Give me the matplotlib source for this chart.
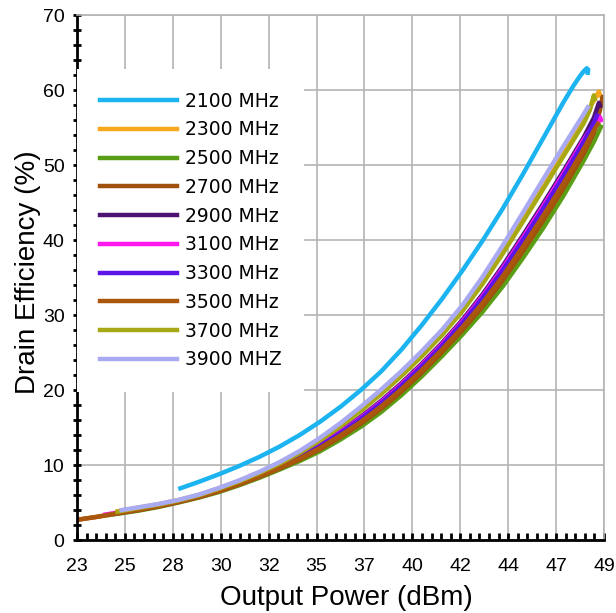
import numpy as np
import matplotlib
matplotlib.use("Agg")
import matplotlib.pyplot as plt
from matplotlib.ticker import MultipleLocator, FixedLocator

# tick labels as printed on the original axis (ticks are evenly spaced 23..49)
x_tick_labels = ["23", "25", "28", "30", "32", "35", "37", "40", "42", "44", "47", "49"]

labels = ["2100 MHz", "2300 MHz", "2500 MHz", "2700 MHz", "2900 MHz",
          "3100 MHz", "3300 MHz", "3500 MHz", "3700 MHz", "3900 MHZ"]
colors = ["#1cb4f0", "#f8a81e", "#5a9e16", "#a0520c", "#4c1470",
          "#ff18f0", "#5c14e8", "#aa560c", "#a8a814", "#aaaaf2"]

# values (Pout dBm, drain efficiency %)
x_2100 = [28.1, 29, 30, 31, 32, 33, 34, 35, 36, 37, 38, 39, 40, 41, 42, 43, 44, 45, 46,
          47, 47.5, 47.8, 48.0, 48.15, 48.22, 48.2]
y_2100 = [6.9, 7.75, 8.77, 9.87, 11.09, 12.47, 14.03, 15.79, 17.77, 19.99, 22.47, 25.37,
          28.62, 32.12, 35.87, 39.87, 44.17, 48.77, 53.57, 58.37, 60.6, 61.8, 62.5, 62.9,
          62.7, 62.3]

x_2300 = [25, 26, 27, 28, 29, 30, 31, 32, 33, 34, 35, 36, 37, 38, 39, 40, 41, 42, 43, 44,
          45, 46, 47, 48, 48.5, 48.7, 48.75, 48.8]
y_2300 = [3.82, 4.31, 4.76, 5.32, 6.01, 6.9, 7.89, 9.02, 10.3, 11.77, 13.47, 15.38, 17.49,
          19.75, 22.18, 24.82, 27.65, 30.86, 34.59, 38.71, 43.05, 47.45, 51.84, 56.18,
          58.6, 59.6, 59.8, 59.3]

x_2500 = [24.6, 25, 26, 27, 28, 29, 30, 31, 32, 33, 34, 35, 36, 37, 38, 39, 40, 41, 42,
          43, 44, 45, 46, 47, 48, 48.5, 48.85]
y_2500 = [3.35, 3.5, 3.9, 4.4, 5.0, 5.65, 6.4, 7.3, 8.3, 9.4, 10.55, 11.85, 13.4, 15.1,
          17.05, 19.3, 21.8, 24.5, 27.35, 30.4, 33.8, 37.6, 41.6, 45.9, 50.6, 53.1, 55.1]

x_2700 = [23, 24, 25, 26, 27, 28, 29, 30, 31, 32, 33, 34, 35, 36, 37, 38, 39, 40, 41, 42,
          43, 44, 45, 46, 47, 48, 48.5, 48.8, 48.93, 48.97]
y_2700 = [2.7, 3.1, 3.55, 3.97, 4.46, 5.05, 5.71, 6.48, 7.4, 8.42, 9.55, 10.75, 12.12,
          13.73, 15.5, 17.5, 19.78, 22.3, 25.03, 27.94, 31.1, 34.62, 38.51, 42.58, 46.89,
          51.53, 54.3, 57.3, 59.1, 58.6]

x_2900 = [25, 26, 27, 28, 29, 30, 31, 32, 33, 34, 35, 36, 37, 38, 39, 40, 41, 42, 43, 44,
          45, 46, 47, 48, 48.5, 48.75, 48.8]
y_2900 = [3.68, 4.13, 4.6, 5.18, 5.85, 6.68, 7.63, 8.7, 9.9, 11.23, 12.75, 14.5, 16.43,
          18.55, 20.9, 23.48, 26.25, 29.3, 32.73, 36.53, 40.63, 44.85, 49.2, 53.7, 56.3,
          58.3, 57.9]

x_3100 = [24.4, 25, 26, 27, 28, 29, 30, 31, 32, 33, 34, 35, 36, 37, 38, 39, 40, 41, 42,
          43, 44, 45, 46, 47, 48, 48.6, 48.8, 48.85]
y_3100 = [3.4, 3.66, 4.1, 4.58, 5.16, 5.83, 6.65, 7.59, 8.66, 9.85, 11.16, 12.66, 14.39,
          16.29, 18.4, 20.74, 23.31, 26.08, 29.1, 32.49, 36.25, 40.32, 44.53, 48.87, 53.39,
          55.8, 56.4, 56.0]

x_3300 = [25, 26, 27, 28, 29, 30, 31, 32, 33, 34, 35, 36, 37, 38, 39, 40, 41, 42, 43, 44,
          45, 46, 47, 48, 48.5, 48.65]
y_3300 = [3.64, 4.08, 4.56, 5.14, 5.81, 6.62, 7.56, 8.62, 9.8, 11.09, 12.57, 14.28, 16.16,
          18.25, 20.58, 23.14, 25.9, 28.91, 32.26, 35.98, 40.02, 44.2, 48.54, 53.08, 55.6,
          56.6]

x_3500 = [23, 24, 25, 26, 27, 28, 29, 30, 31, 32, 33, 34, 35, 36, 37, 38, 39, 40, 41, 42,
          43, 44, 45, 46, 47, 48, 48.5, 48.7]
y_3500 = [2.7, 3.1, 3.59, 4.01, 4.5, 5.09, 5.75, 6.54, 7.46, 8.5, 9.65, 10.89, 12.3, 13.95,
          15.76, 17.8, 20.1, 22.64, 25.38, 28.33, 31.56, 35.16, 39.11, 43.23, 47.55, 52.15,
          54.6, 55.5]

x_3700 = [25, 26, 27, 28, 29, 30, 31, 32, 33, 34, 35, 36, 37, 38, 39, 40, 41, 42, 43, 44,
          45, 46, 47, 48, 48.3, 48.5, 48.55]
y_3700 = [3.78, 4.26, 4.72, 5.28, 5.97, 6.84, 7.82, 8.94, 10.2, 11.63, 13.29, 15.16, 17.22,
          19.45, 21.86, 24.48, 27.3, 30.47, 34.12, 38.16, 42.44, 46.8, 51.18, 55.56, 57.3,
          59.3, 58.8]

x_3900 = [25.2, 26, 27, 28, 29, 30, 31, 32, 33, 34, 35, 36, 37, 38, 39, 40, 41, 42, 43, 44,
          45, 46, 47, 48, 48.2]
y_3900 = [4.0, 4.35, 4.8, 5.35, 6.05, 6.95, 7.95, 9.1, 10.4, 11.9, 13.65, 15.6, 17.75,
          20.05, 22.5, 25.15, 28.0, 31.25, 35.05, 39.25, 43.65, 48.1, 52.5, 56.8, 57.7]

xs = [x_2100, x_2300, x_2500, x_2700, x_2900, x_3100, x_3300, x_3500, x_3700, x_3900]
ys = [y_2100, y_2300, y_2500, y_2700, y_2900, y_3100, y_3300, y_3500, y_3700, y_3900]

fig = plt.figure(figsize=(6.16, 6.13), dpi=100)
ax = fig.add_axes([0.125, 0.119, 0.8555, 0.8565])

for x, y, c, lab in zip(xs, ys, colors, labels):
    ax.plot(x, y, color=c, lw=3.2, label=lab, solid_joinstyle="round")

ax.set_xlim(23, 49)
ax.set_ylim(0, 70)

xt = np.linspace(23, 49, 12)
ax.xaxis.set_major_locator(FixedLocator(xt))
ax.set_xticklabels(x_tick_labels)
ax.xaxis.set_minor_locator(FixedLocator(np.linspace(23, 49, 56)))
ax.yaxis.set_major_locator(MultipleLocator(10))
ax.yaxis.set_minor_locator(MultipleLocator(2))

ax.grid(True, which="major", color="#b4b4b4", lw=1.2)
ax.set_axisbelow(True)

for s in ["top", "right"]:
    ax.spines[s].set_color("#b4b4b4")
    ax.spines[s].set_linewidth(1.2)
for s in ["left", "bottom"]:
    ax.spines[s].set_color("black")
    ax.spines[s].set_linewidth(2)

ax.tick_params(axis="y", which="both", direction="inout", length=6, width=2, color="black")
ax.tick_params(axis="x", which="both", direction="in", length=5, width=2, color="black")
ax.tick_params(axis="y", which="major", labelsize=14, pad=6)
ax.tick_params(axis="x", which="major", labelsize=14, pad=13)
ax.tick_params(top=False, right=False)
for t in ax.get_xticklabels() + ax.get_yticklabels():
    t.set_fontfamily("Liberation Sans")

ax.set_xlabel("Output Power (dBm)", fontsize=20, family="Liberation Sans")
ax.set_ylabel("Drain Efficiency (%)", fontsize=20, family="Liberation Sans")
ax.xaxis.set_label_coords(0.512, -0.085)
ax.yaxis.set_label_coords(-0.068, 0.51)

leg = ax.legend(loc="upper left", bbox_to_anchor=(0.0, 0.897), frameon=True,
                fontsize=13.5, handlelength=4.15, handletextpad=0.4, labelspacing=0.52,
                borderpad=1.2, borderaxespad=0.0, fancybox=False)
leg.get_frame().set_facecolor("white")
leg.get_frame().set_edgecolor("none")
leg.get_frame().set_alpha(1)
for line in leg.get_lines():
    line.set_linewidth(3.2)

fig.savefig("out.png", dpi=100)
